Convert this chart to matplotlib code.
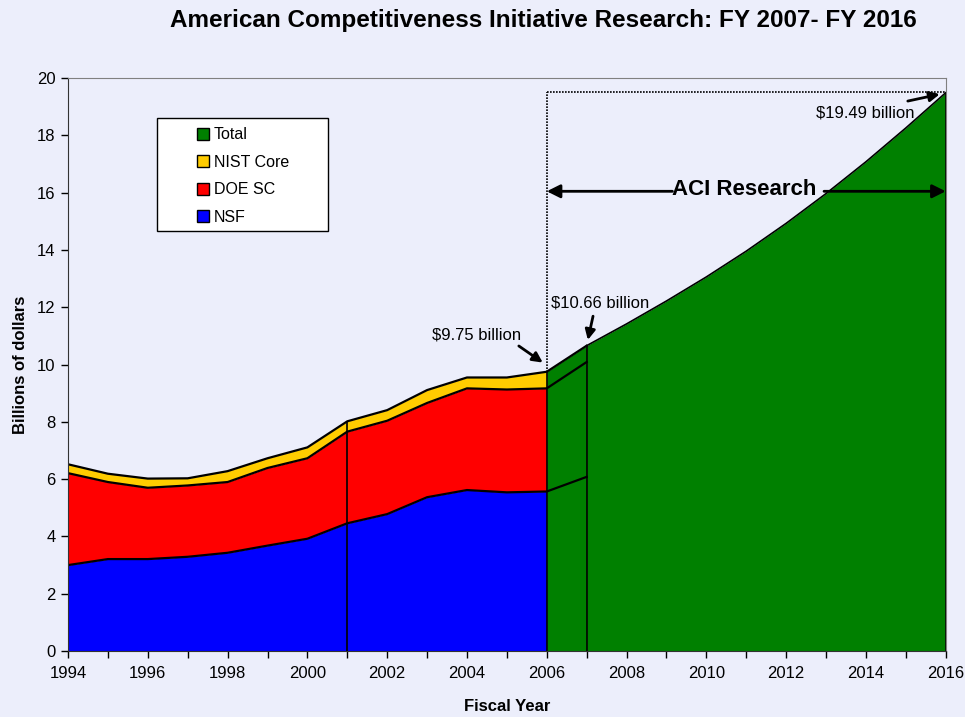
import numpy as np
import matplotlib
matplotlib.use('Agg')
import matplotlib.pyplot as plt
from matplotlib.patches import Rectangle, Patch

plt.rcParams['font.family'] = ['Liberation Sans', 'DejaVu Sans']

# values (billions of dollars)
years = [1994, 1995, 1996, 1997, 1998, 1999, 2000, 2001, 2002, 2003, 2004, 2005, 2006, 2007]
nsf = [3.00, 3.21, 3.21, 3.29, 3.43, 3.68, 3.92, 4.46, 4.78, 5.37, 5.62, 5.54, 5.57, 6.08]
doe_sc = [3.21, 2.69, 2.49, 2.49, 2.47, 2.71, 2.81, 3.20, 3.26, 3.29, 3.55, 3.59, 3.60, 4.01]
nist_core = [0.31, 0.29, 0.32, 0.25, 0.38, 0.34, 0.38, 0.36, 0.37, 0.45, 0.38, 0.42, 0.58, 0.57]
aci_years = [2007, 2008, 2009, 2010, 2011, 2012, 2013, 2014, 2015, 2016]
aci_total = [10.66, 11.42, 12.22, 13.06, 13.96, 14.93, 15.97, 17.08, 18.26, 19.49]

bg = '#ECEEFB'
c_nsf, c_doe, c_nist, c_total = '#0000FF', '#FF0000', '#FFCC00', '#008000'

fig = plt.figure(figsize=(9.65, 7.17), dpi=100, facecolor=bg)
ax = fig.add_axes([0.0705, 0.092, 0.9095, 0.799])
ax.set_facecolor(bg)

yrs = np.array(years)
nsf = np.array(nsf)
mid = nsf + np.array(doe_sc)
tot = mid + np.array(nist_core)
hist = yrs <= 2006
tail = yrs >= 2006

# history, stacked
ax.fill_between(yrs[hist], 0, nsf[hist], color=c_nsf, lw=0)
ax.fill_between(yrs[hist], nsf[hist], mid[hist], color=c_doe, lw=0)
ax.fill_between(yrs[hist], mid[hist], tot[hist], color=c_nist, lw=0)
# 2006-2007 and ACI projection in green
ax.fill_between(yrs[tail], 0, tot[tail], color=c_total, lw=0)
ax.fill_between(aci_years, 0, aci_total, color=c_total, lw=0)

for s in (nsf, mid, tot):
    ax.plot(yrs, s, color='black', lw=1.6)
ax.plot(aci_years, aci_total, color='black', lw=1.2)

# vertical divider lines
for yr in (2001, 2006, 2007):
    i = years.index(yr)
    ax.vlines(yr, 0, tot[i], color='black', lw=1.2)
ax.vlines(2016, 0, aci_total[-1], color='black', lw=1.2)

# dotted box around ACI period
ax.plot([2006, 2006], [tot[years.index(2006)], 19.52], color='black', lw=1.2, ls=(0, (1, 0.8)))
ax.plot([2006, 2016], [19.52, 19.52], color='black', lw=1.2, ls=(0, (1, 0.8)))

# ACI Research double arrow
ax.annotate('', xy=(2006, 16.05), xytext=(2009.15, 16.05),
            arrowprops=dict(arrowstyle='-|>', lw=2, color='black', mutation_scale=20, shrinkA=0, shrinkB=0))
ax.annotate('', xy=(2016, 16.05), xytext=(2012.95, 16.05),
            arrowprops=dict(arrowstyle='-|>', lw=2, color='black', mutation_scale=20, shrinkA=0, shrinkB=0))
ax.text(2010.95, 16.1, 'ACI Research', fontsize=16, fontweight='bold', ha='center', va='center')

# value call-outs
arr = dict(arrowstyle='-|>', lw=2, color='black', mutation_scale=15, shrinkA=0, shrinkB=0)
ax.text(2004.23, 11.03, '$9.75 billion', fontsize=12, ha='center', va='center')
ax.annotate('', xy=(2005.9, 10.07), xytext=(2005.3, 10.65), arrowprops=arr)
ax.text(2007.33, 12.15, '$10.66 billion', fontsize=12, ha='center', va='center')
ax.annotate('', xy=(2007.03, 10.86), xytext=(2007.16, 11.69), arrowprops=arr)
ax.text(2013.99, 18.79, '$19.49 billion', fontsize=12, ha='center', va='center')
ax.annotate('', xy=(2015.85, 19.44), xytext=(2015.05, 19.20), arrowprops=arr)

ax.set_xlim(1994, 2016)
ax.set_ylim(0, 20)
ax.set_xticks(range(1994, 2017, 2))
ax.set_xticks(range(1994, 2017), minor=True)
ax.set_yticks(range(0, 21, 2))
ax.tick_params(axis='both', which='both', direction='out', length=5, width=1, labelsize=12)
ax.tick_params(axis='y', pad=4)
ax.tick_params(axis='x', pad=6)

for loc in ('top', 'right'):
    ax.spines[loc].set_color('#808080')
for loc in ('left', 'bottom'):
    ax.spines[loc].set_color('#333333')

ax.set_xlabel('Fiscal Year', fontsize=12, fontweight='bold')
ax.set_ylabel('Billions of dollars', fontsize=12, fontweight='bold')
ax.xaxis.set_label_coords(0.5, -0.083)
ax.yaxis.set_label_coords(-0.046, 0.5)

fig.text(0.563, 0.971, 'American Competitiveness Initiative Research: FY 2007- FY 2016',
         fontsize=17.5, fontweight='bold', ha='center', va='center')

# legend with a wide white box behind it
ax.add_patch(Rectangle((0.101, 0.733), 0.195, 0.197, transform=ax.transAxes,
                       facecolor='white', edgecolor='black', lw=1, zorder=5))
handles = [Patch(facecolor=c, edgecolor='black', lw=1) for c in (c_total, c_nist, c_doe, c_nsf)]
leg = ax.legend(handles, ['Total', 'NIST Core', 'DOE SC', 'NSF'], loc='upper left',
                bbox_to_anchor=(0.147, 0.914), frameon=False, fontsize=11.5,
                handlelength=0.75, handleheight=0.75, handletextpad=0.3,
                labelspacing=0.78, borderpad=0, borderaxespad=0)
leg.set_zorder(6)

plt.savefig('out.png', dpi=100, facecolor=bg)
